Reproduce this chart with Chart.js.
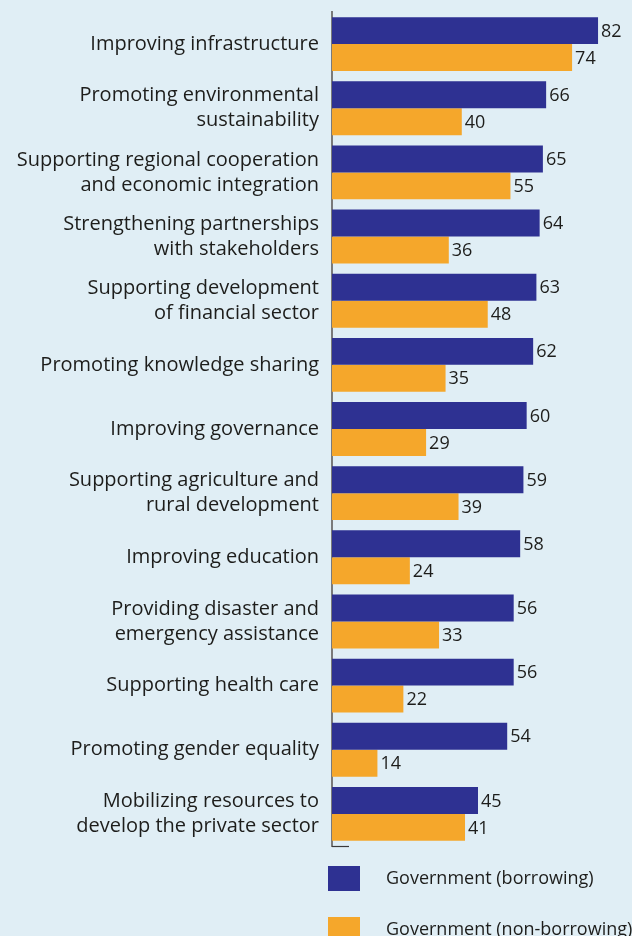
<!DOCTYPE html>
<html>
<head>
<meta charset="utf-8">
<script src="https://cdn.jsdelivr.net/npm/chart.js@4"></script>
<style>
  html, body { margin: 0; padding: 0; background: #e0eef5; }
  #wrap { width: 632px; height: 936px; position: relative; }
</style>
</head>
<body>
<div id="wrap"><canvas id="c" width="632" height="936"></canvas></div>
<script>
// Priority areas, top to bottom
const categories = [
  "Improving infrastructure",
  ["Promoting environmental", "sustainability"],
  ["Supporting regional cooperation", "and economic integration"],
  ["Strengthening partnerships", "with stakeholders"],
  ["Supporting development", "of financial sector"],
  "Promoting knowledge sharing",
  "Improving governance",
  ["Supporting agriculture and", "rural development"],
  "Improving education",
  ["Providing disaster and", "emergency assistance"],
  "Supporting health care",
  "Promoting gender equality",
  ["Mobilizing resources to", "develop the private sector"]
];
const borrowing    = [82, 66, 65, 64, 63, 62, 60, 59, 58, 56, 56, 54, 45];
const nonBorrowing = [74, 40, 55, 36, 48, 35, 29, 39, 24, 33, 22, 14, 41];
const seriesNames  = ["Government (borrowing)", "Government (non-borrowing)"];

const FONT = "'Open Sans', 'Liberation Sans', sans-serif";
const TEXT = "#1d1d1b";

// Value labels at the end of each bar
const valueLabels = {
  id: 'valueLabels',
  afterDatasetsDraw(chart) {
    const ctx = chart.ctx;
    ctx.save();
    ctx.font = "18px " + FONT;
    ctx.fillStyle = TEXT;
    ctx.textAlign = 'left';
    ctx.textBaseline = 'middle';
    chart.data.datasets.forEach((ds, i) => {
      chart.getDatasetMeta(i).data.forEach((bar, j) => {
        ctx.fillText(String(ds.data[j]), bar.x + 3, bar.y + 1);
      });
    });
    ctx.restore();
  }
};

// Small foot tick at the base of the category axis, plus stacked legend below
const footAndLegend = {
  id: 'footAndLegend',
  afterDraw(chart) {
    const ctx = chart.ctx;
    const a = chart.chartArea;
    ctx.save();
    ctx.strokeStyle = '#3a3a3a';
    ctx.lineWidth = 1.2;
    ctx.beginPath();
    ctx.moveTo(a.left, a.bottom + 0.5);
    ctx.lineTo(a.left + 17, a.bottom + 0.5);
    ctx.stroke();

    ctx.font = "18px " + FONT;
    ctx.textBaseline = 'middle';
    ctx.textAlign = 'left';
    const boxX = a.left - 4, boxW = 32, boxH = 25;
    chart.data.datasets.forEach((ds, i) => {
      const top = a.bottom + 20 + i * 51;
      ctx.fillStyle = ds.backgroundColor;
      ctx.fillRect(boxX, top, boxW, boxH);
      ctx.fillStyle = TEXT;
      ctx.fillText(ds.label, boxX + 58, top + boxH / 2);
    });
    ctx.restore();
  }
};

new Chart(document.getElementById('c'), {
  type: 'bar',
  data: {
    labels: categories,
    datasets: [
      { label: seriesNames[0], data: borrowing,    backgroundColor: '#2e3192', categoryPercentage: 0.84, barPercentage: 1.0 },
      { label: seriesNames[1], data: nonBorrowing, backgroundColor: '#f5a72b', categoryPercentage: 0.84, barPercentage: 1.0 }
    ]
  },
  options: {
    indexAxis: 'y',
    responsive: false,
    animation: false,
    layout: { padding: { top: 12, bottom: 90, right: 8, left: 0 } },
    plugins: {
      legend: { display: false },
      tooltip: { enabled: false }
    },
    scales: {
      x: {
        display: false,
        min: 0,
        max: 90
      },
      y: {
        grid: { display: false, drawTicks: false },
        border: { display: true, color: '#7a7a7a', width: 2 },
        ticks: {
          color: TEXT,
          font: { family: FONT, size: 20, lineHeight: 1.25 },
          padding: 13,
          crossAlign: 'near'
        },
        afterFit(scale) {
          scale.width = 332;
          scale.paddingTop = 0;
          scale.paddingBottom = 0;
        }
      }
    }
  },
  plugins: [valueLabels, footAndLegend]
});
</script>
</body>
</html>
